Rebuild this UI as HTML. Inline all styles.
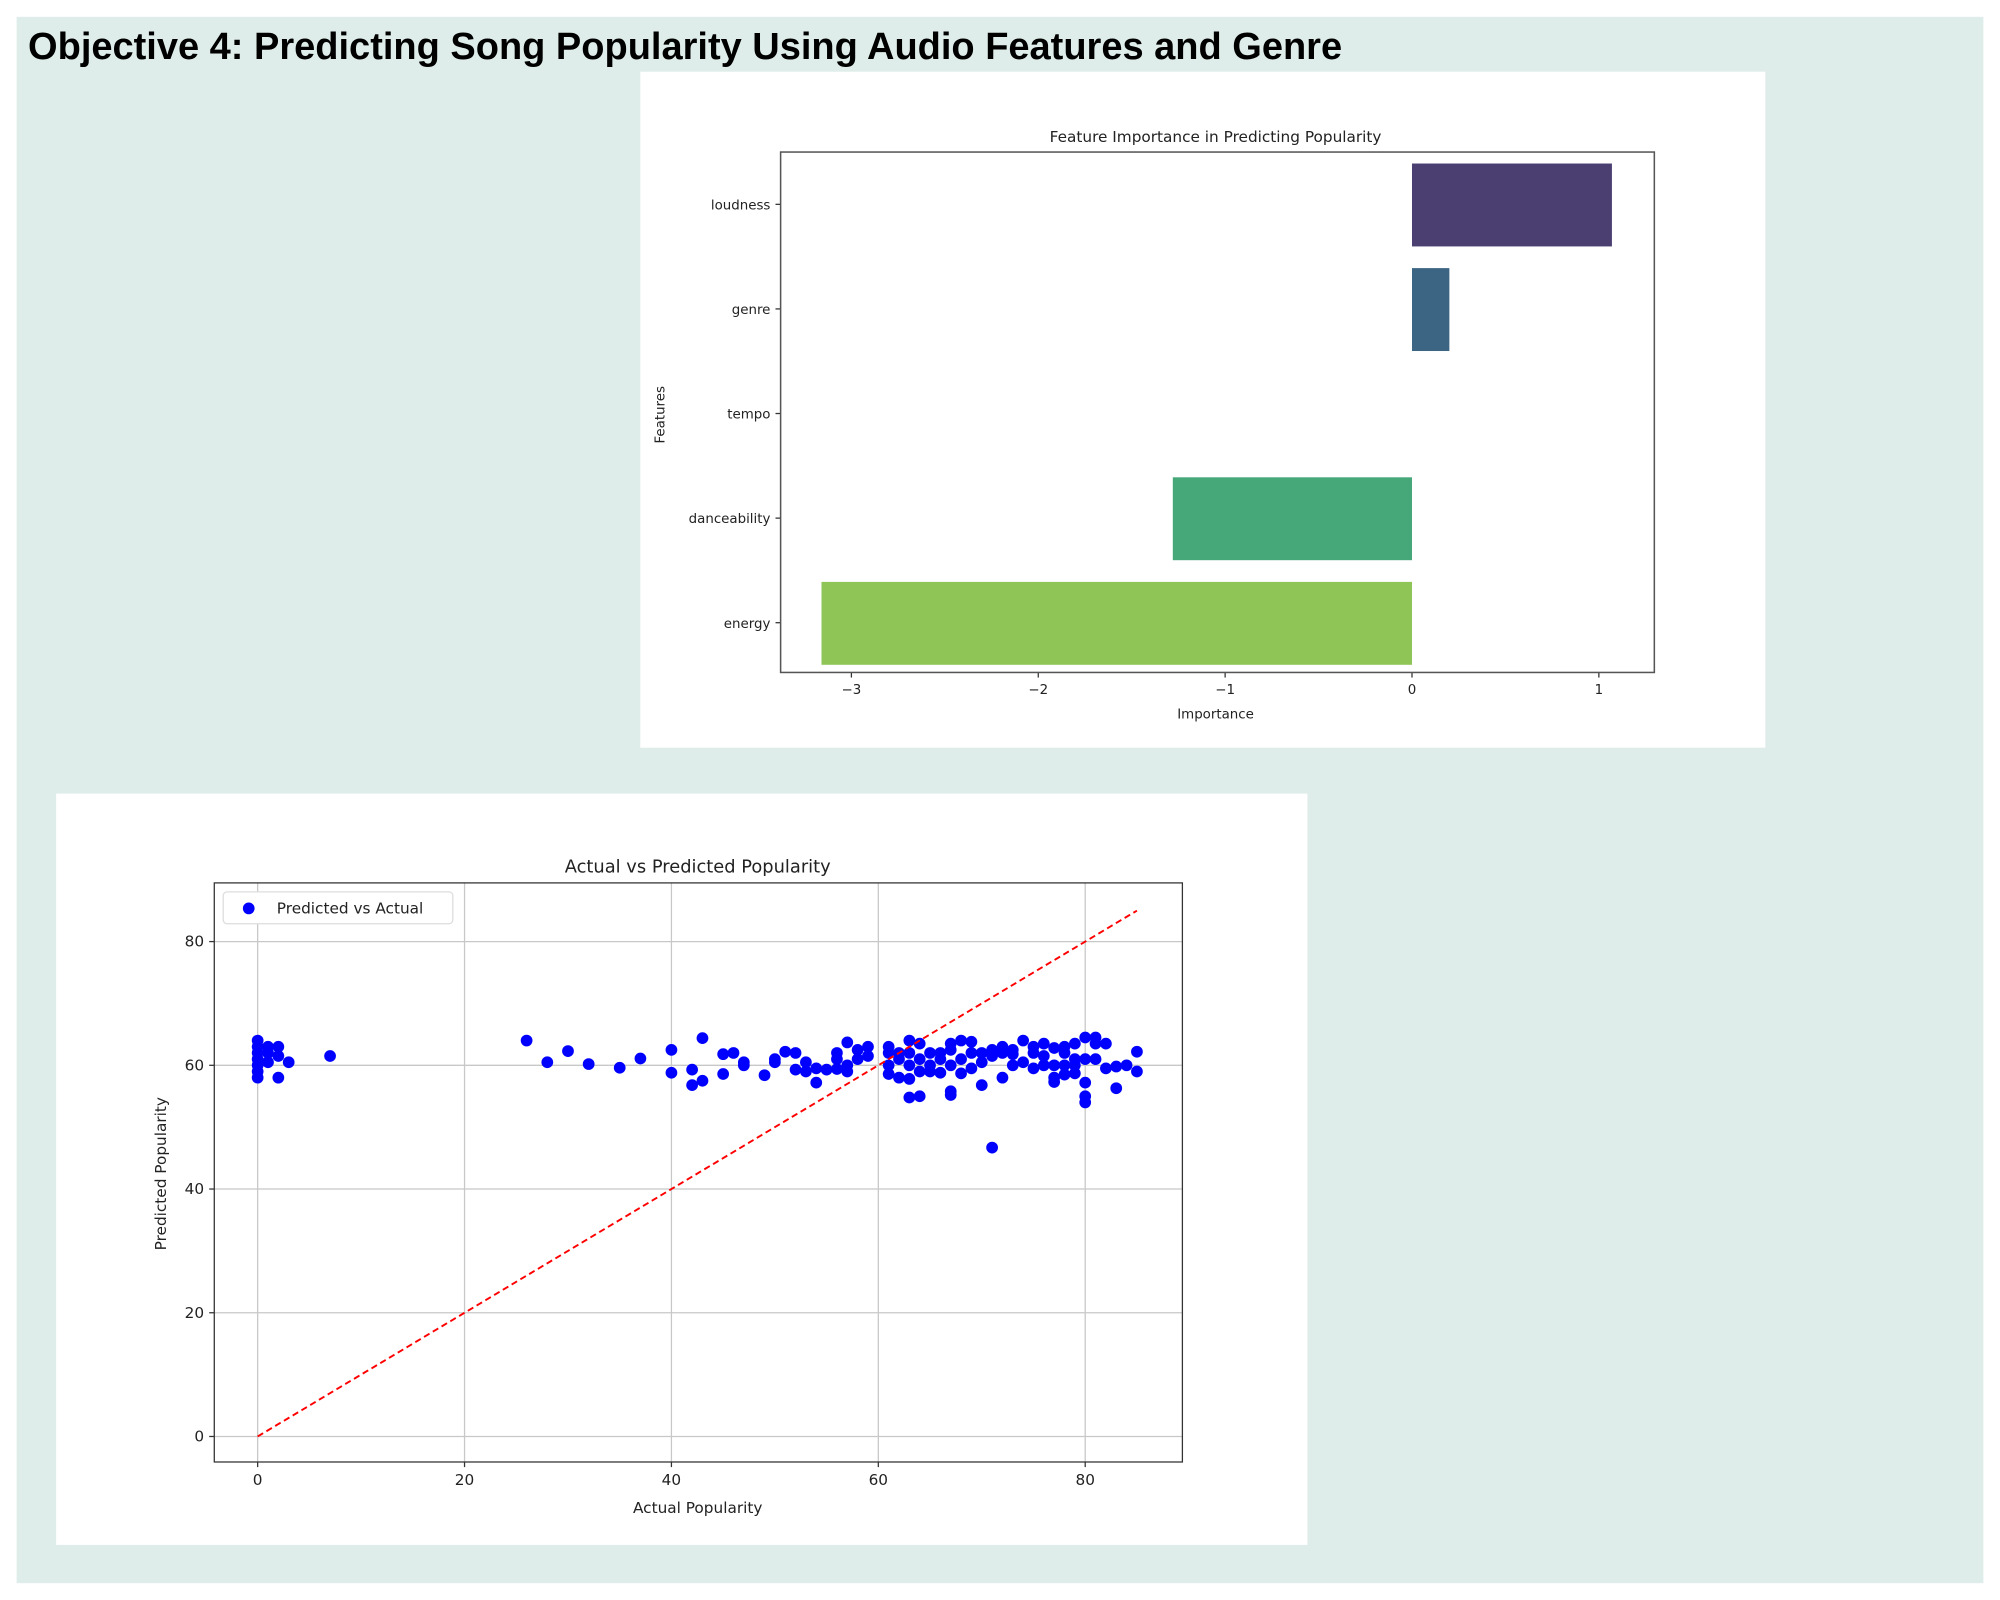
<!DOCTYPE html>
<html><head><meta charset="utf-8"><style>
html,body{margin:0;padding:0;background:#fff;width:2000px;height:1600px;overflow:hidden}
svg{display:block}
text{font-family:"DejaVu Sans",sans-serif;fill:#222}
</style></head><body>
<svg id="root" width="2000" height="1600" viewBox="0 0 1568 1254">
<rect x="13" y="13" width="1542" height="1228" fill="#deede9"/>
<text x="22" y="46" style="font-family:'Liberation Sans',sans-serif;font-weight:bold;font-size:29.8px;fill:#000">Objective 4: Predicting Song Popularity Using Audio Features and Genre</text>
<rect x="502" y="56" width="882" height="530" fill="#fff"/>
<g id="bar"></g>
<rect x="44" y="622" width="981" height="589" fill="#fff"/>
<g id="sc"></g>
</svg>
<script>
const features=["loudness","genre","tempo","danceability","energy"];
const importance=[1.07,0.2,0,-1.28,-3.16];
const barColors=["#4b3f72","#3c6584","#2c8a8a","#46a878","#8ec556"];
const impTicks=[-3,-2,-1,0,1];

const actual=[0,0,0,0,0,0,0,1,1,1,2,2,2,3,7,26,28,30,32,35,37,40,40,42,42,43,43,45,45,46,47,47,49,50,50,51,52,52,53,53,54,54,55,56,56,56,57,57,57,58,58,59,59,61,61,61,61,62,62,62,63,63,63,63,63,64,64,64,64,65,65,65,66,66,66,67,67,67,67,67,68,68,68,69,69,69,70,70,70,71,71,71,72,72,72,73,73,73,74,74,75,75,75,76,76,76,77,77,77,77,78,78,78,78,79,79,79,79,80,80,80,80,80,81,81,81,82,82,83,83,84,85,85];
const predicted=[58,59,60,61,62,63,64,60.5,62,63,58,61.5,63,60.5,61.5,64,60.5,62.3,60.2,59.6,61.1,58.8,62.5,56.8,59.3,57.5,64.4,58.6,61.8,62,60,60.5,58.4,60.5,61,62.2,59.3,62,59,60.5,57.2,59.5,59.3,59.4,61,62,59,60,63.7,61,62.5,61.5,63,58.6,60,62,63,58,61,62,54.8,57.8,60,62,64,55,59,61,63.5,59,60,62,58.8,61,62,55.2,55.8,60,62.5,63.5,58.7,61,64,59.5,62,63.8,56.8,60.5,62,46.7,61.5,62.5,58,62,63,60,61.8,62.5,60.5,64,59.5,62,63,60,61.5,63.5,57.3,58,60,62.8,58.5,60,62,63,58.7,60,61,63.5,54,55,57.2,61,64.5,61,64.5,63.5,59.5,63.5,56.3,59.8,60,59,62.2];
const xTicks=[0,20,40,60,80];
const yTicks=[0,20,40,60,80];

const NS="http://www.w3.org/2000/svg";
function mk(p,tag,attrs,txt){const e=document.createElementNS(NS,tag);for(const k in attrs)e.setAttribute(k,attrs[k]);if(txt!==undefined)e.textContent=txt;p.appendChild(e);return e;}

const bg=document.getElementById('bar');
const bx=v=>1107+v*146.5;
const by=i=>160+i*82;
let t=mk(bg,'text',{x:953,y:111,'text-anchor':'middle','font-size':12});t.textContent="Feature Importance in Predicting Popularity";


features.forEach((f,i)=>{
  if(importance[i]!==0){
    const r=mk(bg,'rect',{x:Math.min(bx(0),bx(importance[i])),y:by(i)-32,width:Math.abs(bx(importance[i])-bx(0)),height:65,fill:barColors[i]});
    
    
  }
  mk(bg,'line',{x1:608,x2:612,y1:by(i),y2:by(i),stroke:'#333'});
  const l=mk(bg,'text',{x:604,y:by(i)+4,'text-anchor':'end','font-size':10.5},f);
  
  
});
impTicks.forEach(v=>{
  mk(bg,'line',{x1:bx(v),x2:bx(v),y1:527,y2:531,stroke:'#333'});
  const l=mk(bg,'text',{x:bx(v),y:544,'text-anchor':'middle','font-size':10.5},v<0?'\u2212'+(-v):String(v));
  
  
});
let fr=mk(bg,'rect',{x:612,y:119,width:685,height:408,fill:'none',stroke:'#555','stroke-width':1.2});


t=mk(bg,'text',{x:953,y:563,'text-anchor':'middle','font-size':10.5},'Importance');


t=mk(bg,'text',{x:0,y:0,'text-anchor':'middle','font-size':10.5,transform:'translate(521,325) rotate(-90)'},'Features');



const sg=document.getElementById('sc');
const sx=v=>202+v*8.11;
const sy=v=>1126-v*4.85;
t=mk(sg,'text',{x:547,y:684,'text-anchor':'middle','font-size':14},'Actual vs Predicted Popularity');


xTicks.forEach(v=>{
  mk(sg,'line',{x1:sx(v),x2:sx(v),y1:692,y2:1146,stroke:'#c8c8c8'});
  mk(sg,'line',{x1:sx(v),x2:sx(v),y1:1146,y2:1150,stroke:'#333'});
  const l=mk(sg,'text',{x:sx(v),y:1164,'text-anchor':'middle','font-size':12},String(v));
  
  
});
yTicks.forEach(v=>{
  mk(sg,'line',{x1:168,x2:927,y1:sy(v),y2:sy(v),stroke:'#c8c8c8'});
  mk(sg,'line',{x1:164,x2:168,y1:sy(v),y2:sy(v),stroke:'#333'});
  const l=mk(sg,'text',{x:160,y:sy(v)+4,'text-anchor':'end','font-size':12},String(v));
  
  
});
actual.forEach((a,i)=>{
  const c=mk(sg,'circle',{cx:sx(a),cy:sy(predicted[i]),r:4.6,fill:'#0000ff'});
  
  
});
let ln=mk(sg,'line',{x1:sx(0),y1:sy(0),x2:sx(85),y2:sy(85),stroke:'#ff0000','stroke-width':1.5,'stroke-dasharray':'5,3'});


fr=mk(sg,'rect',{x:168,y:692,width:759,height:454,fill:'none',stroke:'#333','stroke-width':1});


const lg=mk(sg,'g',{});


mk(lg,'rect',{x:175,y:699,width:180,height:25,rx:3,fill:'#fff',stroke:'#ddd'});
mk(lg,'circle',{cx:195,cy:712,r:4.6,fill:'#0000ff'});
mk(lg,'text',{x:217,y:716,'font-size':12},'Predicted vs Actual');
t=mk(sg,'text',{x:547,y:1186,'text-anchor':'middle','font-size':12},'Actual Popularity');


t=mk(sg,'text',{x:0,y:0,'text-anchor':'middle','font-size':12,transform:'translate(130,920) rotate(-90)'},'Predicted Popularity');


</script>
</body></html>
